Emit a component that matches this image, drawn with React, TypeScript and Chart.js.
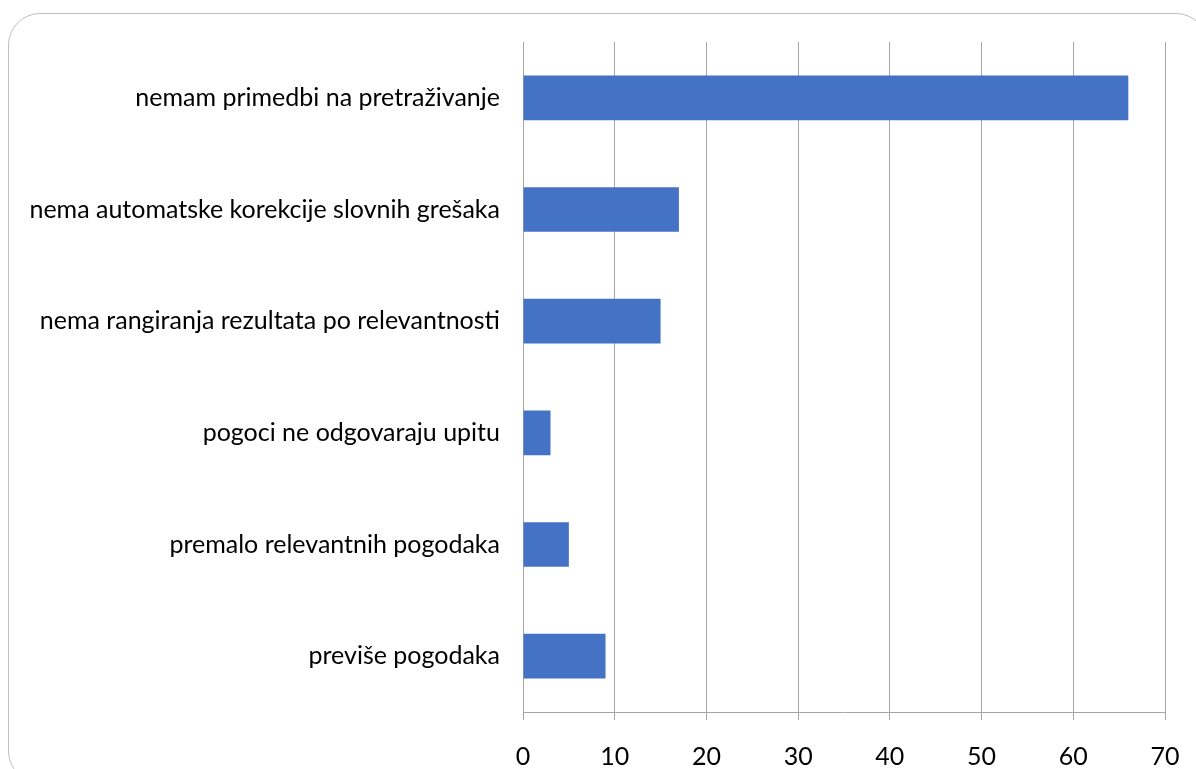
import React, { useEffect, useRef } from "react";
import { Chart, registerables } from "chart.js";

Chart.register(...registerables);

const categories = [
  "nemam primedbi na pretraživanje",
  "nema automatske korekcije slovnih grešaka",
  "nema rangiranja rezultata po relevantnosti",
  "pogoci ne odgovaraju upitu",
  "premalo relevantnih pogodaka",
  "previše pogodaka",
];
const values = [66, 17, 15, 3, 5, 9];
const xMin = 0;
const xMax = 70;
const xStep = 10;

const FONT = "Lato, 'Open Sans', sans-serif";

export default function App() {
  const ref = useRef<HTMLCanvasElement>(null);
  useEffect(() => {
    if (!ref.current) return;
    const chart = new Chart(ref.current, {
      type: "bar",
      data: {
        labels: categories,
        datasets: [
          {
            data: values,
            backgroundColor: "#4472C4",
            borderWidth: 0,
            barPercentage: 0.8,
            categoryPercentage: 0.5,
          },
        ],
      },
      options: {
        indexAxis: "y",
        animation: false,
        responsive: false,
        maintainAspectRatio: false,
        layout: { padding: { top: 42, right: 31, bottom: 0, left: 0 } },
        plugins: { legend: { display: false }, tooltip: { enabled: false } },
        scales: {
          x: {
            min: xMin,
            max: xMax,
            ticks: {
              stepSize: xStep,
              color: "#000",
              font: { family: FONT, size: 25 },
              padding: 22,
            },
            grid: {
              color: "#a6a6a6",
              lineWidth: 1,
              drawTicks: true,
              tickLength: 8,
            },
            border: { display: true, color: "#a6a6a6", width: 1 },
            afterFit: (s: any) => {
              s.height = 57;
              s.paddingRight = 0;
              s.paddingLeft = 0;
            },
          },
          y: {
            ticks: {
              color: "#000",
              font: { family: FONT, size: 25 },
              padding: 23,
            },
            grid: { display: false, drawTicks: false },
            border: { display: false },
            afterFit: (s: any) => {
              s.width = 523;
              s.paddingTop = 0;
              s.paddingBottom = 0;
            },
          },
        },
      },
    });
    return () => chart.destroy();
  }, []);
  return (
    <div
      style={{
        position: "fixed",
        left: 0,
        top: 0,
        width: 1196,
        height: 769,
        overflow: "hidden",
        background: "#fff",
      }}
    >
      <div
        style={{
          position: "absolute",
          left: 8,
          top: 13,
          width: 1200,
          height: 770,
          border: "1.5px solid #bfbfbf",
          borderRadius: 32,
          boxSizing: "border-box",
        }}
      />
      <canvas
        ref={ref}
        width={1196}
        height={769}
        style={{ position: "absolute", left: 0, top: 0 }}
      />
    </div>
  );
}
